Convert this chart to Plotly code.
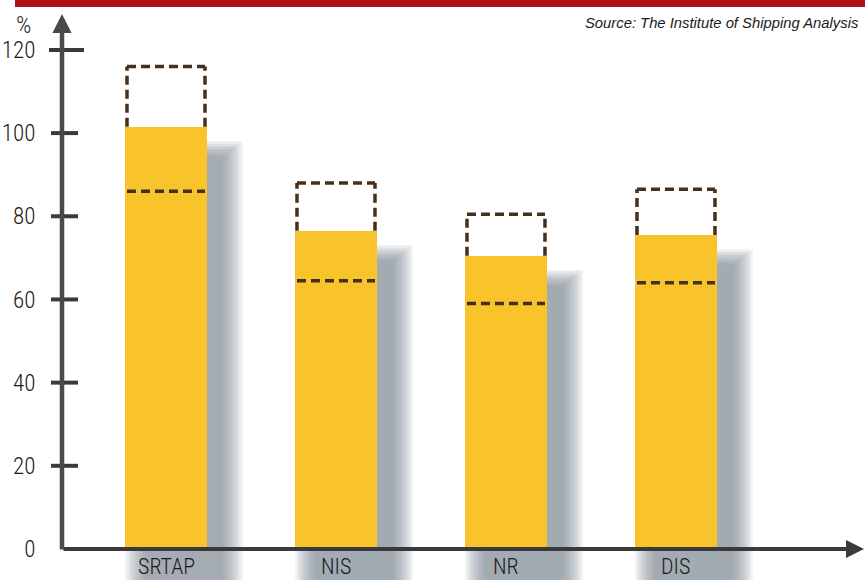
import plotly.graph_objects as go

# ---------------- data ----------------
categories = ["SRTAP", "NIS", "NR", "DIS"]
bar_values = [101.5, 76.5, 70.5, 75.5]     # filled (yellow) bar height
upper_values = [116, 88, 80.5, 86.5]        # top of the dashed box
lower_values = [86, 64.5, 59, 64]           # dashed line inside the bar
y_tick_values = [0, 20, 40, 60, 80, 100, 120]
y_tick_labels = ["0", "20", "40", "60", "80", "100", "120"]
unit_label = "%"
source_text = "Source: The Institute of Shipping Analysis"

# ---------------- layout geometry ----------------
W, H = 865, 580
ML = 62
X_RANGE = [-0.6118, 4.112]
Y_RANGE = [-7.46, 132.0]
PX_PER_X = (W - ML) / (X_RANGE[1] - X_RANGE[0])
PX_PER_Y = H / (Y_RANGE[1] - Y_RANGE[0])


def dx(px):
    return px / PX_PER_X


def dy(px):
    return px / PX_PER_Y


def paper_y(v):
    return (v - Y_RANGE[0]) / (Y_RANGE[1] - Y_RANGE[0])


def paper_x_px(px):
    return (px - ML) / (W - ML)


BAR_W = dx(82)
NARROW = "Roboto Condensed, Liberation Sans Narrow, DejaVu Sans Condensed, sans-serif"
BAR_COLOR = "#f8c32b"
DASH_COLOR = "#45301c"
AXIS_COLOR = "#3a3a3a"

fig = go.Figure()

# blurred drop shadows (several translucent layers)
base = Y_RANGE[0] - 2
for e in range(0, 22, 2):
    tops = [v - dy(30 - e * 0.8) for v in bar_values]
    fig.add_bar(
        x=categories,
        y=[t - base for t in tops],
        base=base,
        offset=dx(-41 + 20 - e),
        width=dx(78 + 2 * e),
        marker=dict(color="#74838d", line=dict(width=0)),
        opacity=0.085,
        hoverinfo="skip",
        showlegend=False,
    )

# main bars
fig.add_bar(
    x=categories,
    y=bar_values,
    width=BAR_W,
    marker=dict(color=BAR_COLOR, line=dict(width=0)),
    hoverinfo="skip",
    showlegend=False,
)

shapes = []
dash_line = dict(color=DASH_COLOR, width=3.5, dash="9px,5px")
for i, cat in enumerate(categories):
    x0 = i - BAR_W / 2 + dx(2)
    x1 = i + BAR_W / 2 - dx(2)
    # dashed box on top of bar
    shapes.append(dict(type="line", xref="x", yref="y", x0=x0, x1=x1,
                       y0=upper_values[i], y1=upper_values[i], line=dash_line, layer="above"))
    shapes.append(dict(type="line", xref="x", yref="y", x0=x0, x1=x0,
                       y0=bar_values[i], y1=upper_values[i], line=dash_line, layer="above"))
    shapes.append(dict(type="line", xref="x", yref="y", x0=x1, x1=x1,
                       y0=bar_values[i], y1=upper_values[i], line=dash_line, layer="above"))
    # dashed line within bar
    shapes.append(dict(type="line", xref="x", yref="y", x0=x0, x1=x1,
                       y0=lower_values[i], y1=lower_values[i], line=dash_line, layer="above"))

# crossing tick marks on the y axis
for v in y_tick_values:
    if v == 0:
        continue
    left, right = (49, 84) if v == max(y_tick_values) else (51, 78)
    shapes.append(dict(type="line", xref="paper", yref="paper",
                       x0=paper_x_px(left), x1=paper_x_px(right),
                       y0=paper_y(v), y1=paper_y(v),
                       line=dict(color=AXIS_COLOR, width=4), layer="above"))

# red banner at top
shapes.append(dict(type="rect", xref="paper", yref="paper",
                   x0=paper_x_px(15), x1=1.0, y0=1 - 7 / H, y1=1.0,
                   fillcolor="#b30f19", line=dict(width=0), layer="above"))

annotations = []
# x axis with arrow
annotations.append(dict(x=X_RANGE[1] - dx(1), y=0, xref="x", yref="y",
                        ax=X_RANGE[0], ay=0, axref="x", ayref="y",
                        text="", showarrow=True, arrowhead=2, arrowsize=0.9,
                        arrowwidth=4, arrowcolor=AXIS_COLOR))
# y axis with arrow
annotations.append(dict(x=X_RANGE[0], y=Y_RANGE[1] - dy(14), xref="x", yref="y",
                        ax=X_RANGE[0], ay=-dy(2), axref="x", ayref="y",
                        text="", showarrow=True, arrowhead=2, arrowsize=0.85,
                        arrowwidth=4.5, arrowcolor="#4a4a4a"))
# category labels
for i, cat in enumerate(categories):
    annotations.append(dict(x=i, y=Y_RANGE[0], xref="x", yref="y", text=cat,
                            showarrow=False, yanchor="bottom", xanchor="center",
                            borderpad=0,
                            font=dict(family=NARROW, size=22, weight=300, color="#1a1a1a")))
# unit label
annotations.append(dict(x=paper_x_px(23), y=1 - 25 / H, xref="paper", yref="paper",
                        text=unit_label, showarrow=False, xanchor="center", yanchor="middle",
                        font=dict(family=NARROW, size=24, weight=300, color="#1a1a1a")))
# source
annotations.append(dict(x=paper_x_px(861), y=1 - 23 / H, xref="paper", yref="paper",
                        text="<i>" + source_text + "</i>", showarrow=False,
                        xanchor="right", yanchor="middle",
                        font=dict(family="Liberation Sans, Arial, sans-serif",
                                  size=14.8, color="#1a1a1a")))

fig.update_layout(
    width=W, height=H,
    margin=dict(l=ML, r=0, t=0, b=0),
    paper_bgcolor="white",
    plot_bgcolor="white",
    barmode="overlay",
    bargap=0,
    shapes=shapes,
    annotations=annotations,
    xaxis=dict(range=X_RANGE, showgrid=False, zeroline=False, showline=False,
               showticklabels=False, ticks="", fixedrange=True),
    yaxis=dict(range=Y_RANGE, showgrid=False, zeroline=False, showline=False,
               tickmode="array", tickvals=y_tick_values, ticktext=y_tick_labels,
               ticks="outside", ticklen=21, tickcolor="rgba(0,0,0,0)",
               tickfont=dict(family=NARROW, size=23, weight=300, color="#1a1a1a"),
               fixedrange=True),
)

fig.write_html("out.html", config={"displayModeBar": False})
